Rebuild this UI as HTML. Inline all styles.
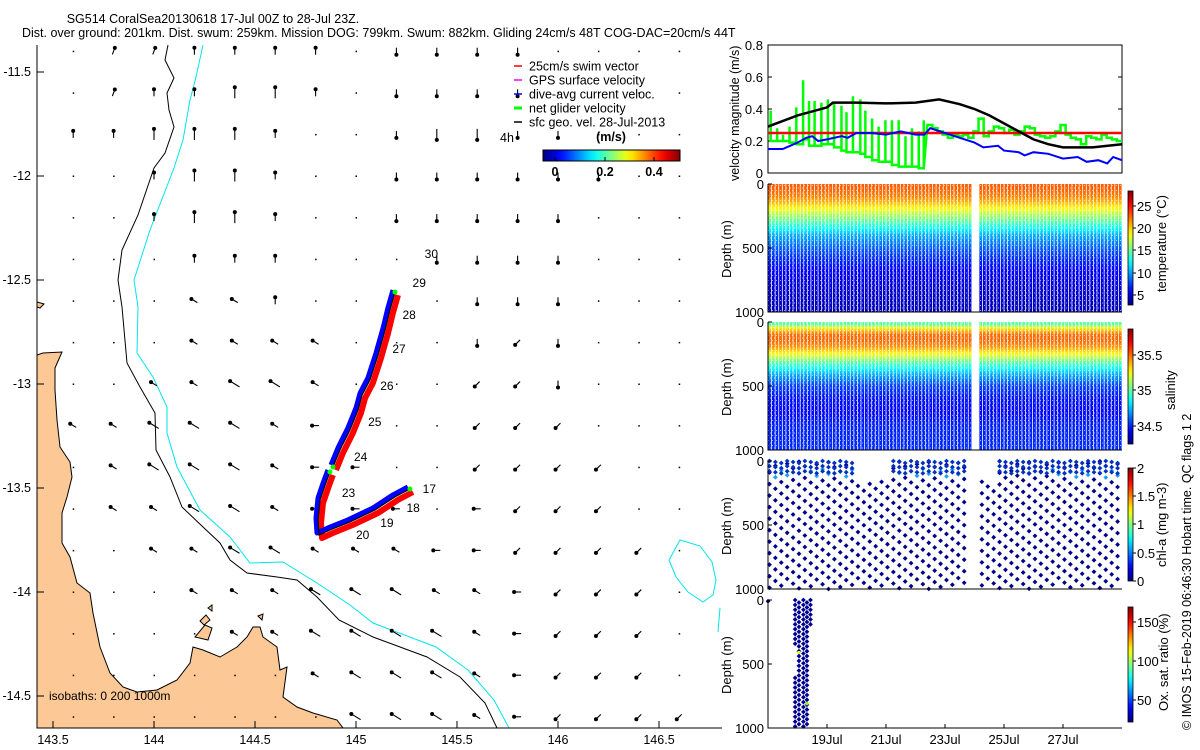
<!DOCTYPE html>
<html><head><meta charset="utf-8">
<style>
html,body{margin:0;padding:0;background:#fff;}
svg{display:block;font-family:"Liberation Sans",sans-serif;}
text{fill:#000;}
</style></head>
<body>
<svg id="fig" width="1200" height="750" viewBox="0 0 1200 750" xmlns="http://www.w3.org/2000/svg">
<defs>
<clipPath id="mapclip"><rect x="37" y="45" width="685" height="683"/></clipPath>
<linearGradient id="jetH" x1="0" x2="1" y1="0" y2="0"></linearGradient>
<linearGradient id="jetV" x1="0" x2="0" y1="1" y2="0"></linearGradient>
<linearGradient id="tempG" x1="0" x2="0" y1="0" y2="1"></linearGradient>
<linearGradient id="salG" x1="0" x2="0" y1="0" y2="1"></linearGradient>
<pattern id="dotsP" width="4" height="5" patternUnits="userSpaceOnUse"><rect x="0" y="0" width="1" height="1" fill="#fff"/><rect x="2" y="2.5" width="1" height="1" fill="#fff"/></pattern>
</defs>
<text x="213" y="23" text-anchor="middle" font-size="12.5">SG514 CoralSea20130618 17-Jul 00Z to 28-Jul 23Z.</text>
<text x="22" y="37" font-size="12.5">Dist. over ground: 201km. Dist. swum: 259km. Mission DOG: 799km. Swum: 882km. Gliding 24cm/s 48T COG-DAC=20cm/s 44T</text>

<g id="map"></g>
<g id="vel"></g>
<g id="sections"></g>

<text transform="translate(1191,730) rotate(-90)" font-size="12.5">© IMOS 15-Feb-2019 06:46:30 Hobart time. QC flags 1  2</text>
</svg>
<script>
// ---------------- data ----------------
const geoDays = [0,1,2,2.2,3,4,5,5.8,6.5,7,7.5,8,8.5,9,9.5,10,11,12];
const geoVel  = [0.29,0.36,0.41,0.44,0.44,0.435,0.44,0.46,0.43,0.40,0.36,0.31,0.26,0.21,0.18,0.16,0.16,0.18];
const swimVel = 0.25;
const dacDays = [0,0.5,1,1.3,1.5,1.7,2,2.5,2.7,3,3.5,4,4.5,5,5.3,5.5,6,6.5,7,7.3,7.8,8,8.5,8.7,9,9.5,10,10.5,10.8,11.2,11.5,11.7,12];
const dacVel  = [0.15,0.15,0.19,0.22,0.23,0.20,0.21,0.23,0.22,0.25,0.25,0.24,0.26,0.24,0.24,0.28,0.25,0.22,0.19,0.16,0.17,0.14,0.13,0.11,0.13,0.12,0.09,0.10,0.07,0.08,0.06,0.10,0.08];
const netDays1 = [0.09,0.31,0.51,0.73,0.96,1.19,1.39,1.58,1.81,2.03,2.24,2.49,2.66,2.88,3.13,3.30,3.53,3.75,3.98,4.20,4.43,4.66,4.88,5.11,5.28];
const netHigh1 = [0.39,0.28,0.24,0.29,0.41,0.58,0.45,0.45,0.44,0.46,0.44,0.42,0.38,0.48,0.46,0.39,0.34,0.29,0.33,0.33,0.33,0.23,0.28,0.26,0.33];
const netLow1  = [0.20,0.20,0.20,0.19,0.18,0.21,0.17,0.17,0.18,0.18,0.16,0.14,0.13,0.13,0.12,0.10,0.08,0.07,0.07,0.05,0.04,0.04,0.04,0.03,0.03];
const netVel2  = [0.30,0.28,0.26,0.24,0.22,0.24,0.23,0.24,0.22,0.26,0.34,0.23,0.26,0.29,0.28,0.25,0.27,0.24,0.26,0.29,0.28,0.24,0.23,0.22,0.23,0.26,0.30,0.24,0.22,0.21,0.18,0.23,0.22,0.21,0.24,0.22,0.21,0.20];
const velTicks = [0,0.2,0.4,0.6,0.8];
const dateTicks = [2,4,6,8,10];
const dateLabels = ["19Jul","21Jul","23Jul","25Jul","27Jul"];
const profDepth = [0,20,50,100,150,200,250,300,400,500,600,700,800,1000];
const profTemp  = [23,23,22.8,22,20.5,18.5,16.5,14.5,10.5,8.5,7,6,5.2,4.4];
const profSal   = [35.0,35.0,35.3,35.5,35.5,35.42,35.25,35.05,34.75,34.55,34.48,34.46,34.5,34.52];
const trackLon1 = [145.267,145.193,145.094,144.970,144.871,144.817,144.812,144.822,144.847,144.871];
const trackLat1 = [-13.505,-13.543,-13.606,-13.663,-13.702,-13.726,-13.654,-13.558,-13.486,-13.423];
const trackLon2 = [144.886,144.921,144.970,145.010,145.030,145.069,145.109,145.144,145.168,145.193];
const trackLat2 = [-13.399,-13.317,-13.221,-13.125,-13.053,-12.981,-12.861,-12.740,-12.644,-12.558];
const dayLabels = ["17","18","19","20","23","24","25","26","27","28","29","30"];
const dayLon = [145.33,145.25,145.12,145.0,144.93,144.99,145.06,145.12,145.18,145.23,145.28,145.34];
const dayLat = [-13.505,-13.596,-13.668,-13.726,-13.524,-13.351,-13.183,-13.010,-12.832,-12.668,-12.514,-12.375];
const quiverRows = [
 ".bbnnnn.ssss....",
 ".bnnNNn.ssss....",
 "nnNNNn..sSSss...",
 "..nNNn..ssssss..",
 "..nNNn..sssss...",
 "...nnn...ssss...",
 "...aan....sss...",
 "...aaaa...scs...",
 "..aaAAa...ccs...",
 "aaAAAaw...ccc...",
 ".aAAAaww..cccc..",
 ".aaAAawww.wccc..",
 "..aaAAaaawwcccc.",
 "...aaaAAAaawccc.",
 "....aaAAAAawccc.",
 "......aAAAawccc.",
 ".......AAAawcccc"];

// ---------------- helpers ----------------
const NS="http://www.w3.org/2000/svg";
function mk(tag,attrs,parent){const e=document.createElementNS(NS,tag);for(const k in attrs)e.setAttribute(k,attrs[k]);parent.appendChild(e);return e;}
function jet(t){t=Math.max(0,Math.min(1,t));const r=Math.max(0,Math.min(1,1.5-Math.abs(4*t-3))),g=Math.max(0,Math.min(1,1.5-Math.abs(4*t-2))),b=Math.max(0,Math.min(1,1.5-Math.abs(4*t-1)));return `rgb(${Math.round(r*255)},${Math.round(g*255)},${Math.round(b*255)})`;}
function interp(xs,ys,x){for(let i=1;i<xs.length;i++){if(x<=xs[i]){const f=(x-xs[i-1])/(xs[i]-xs[i-1]);return ys[i-1]+f*(ys[i]-ys[i-1]);}}return ys[ys.length-1];}
['jetH','jetV'].forEach(id=>{const g=document.getElementById(id);for(let i=0;i<=20;i++)mk('stop',{offset:(i/20),'stop-color':jet(i/20)},g);});
(function(){const tg=document.getElementById('tempG'),sg=document.getElementById('salG');
for(let d=0;d<=1000;d+=20){mk('stop',{offset:d/1000,'stop-color':jet((interp(profDepth,profTemp,d)-3)/25.5)},tg);
mk('stop',{offset:d/1000,'stop-color':jet((interp(profDepth,profSal,d)-34.25)/1.62)},sg);}})();

// ---------------- map ----------------
const map=document.getElementById('map');
const X=lon=>356+(lon-145)*202, Y=lat=>176+(-12-lat)*208;
const mg=mk('g',{'clip-path':'url(#mapclip)'},map);
const land=mk('path',{d:"M37,355 L43,353 L62,352 L55,368 L55,390 L57,420 L60,447 L70,462 L72,477 L67,497 L62,513 L62,543 L70,557 L77,583 L90,593 L93,613 L100,647 L110,673 L123,687 L137,692 L157,690 L177,680 L190,663 L193,647 L203,650 L220,657 L237,647 L247,637 L253,627 L260,627 L263,637 L277,647 L280,670 L287,667 L283,697 L297,707 L313,713 L337,720 L343,728 L37,728 Z M37,302 L44,304 L40,308 L37,307 Z M195,637 L205,625 L212,628 L208,640 Z M200,621 L206,615 L210,620 L204,625 Z M258,616 L263,614 L262,620 Z M208,608 L212,605 L212,611 Z",fill:'#fcc896',stroke:'#000','stroke-width':1},mg);


const iso200=mk('path',{d:"M168,45 L165,60 L174,78 L167,93 L169,110 L174,127 L165,153 L154,168 L138,215 L122,250 L118,280 L122,307 L127,363 L140,387 L155,413 L156,450 L170,477 L182,507 L203,527 L220,543 L230,560 L247,573 L277,577 L297,580 L317,597 L339,620 L373,637 L427,657 L460,677 L485,703 L497,728",fill:'none',stroke:'#000','stroke-width':1},mg);


const iso1000=mk('path',{d:"M203,45 L196,77 L190,100 L183,140 L174,168 L150,230 L134,280 L138,307 L137,353 L153,377 L167,407 L167,433 L177,467 L200,510 L230,537 L250,563 L283,562 L317,583 L350,605 L373,623 L436,647 L468,670 L494,700 L509,728 M680,540 L700,546 L712,562 L716,580 L713,595 L703,602 L688,592 L676,577 L669,560 Z M720,608 L718,632",fill:'none',stroke:'#00e5ee','stroke-width':1},mg);


const dirs={n:[0,-1],s:[0,1],e:[1,0],w:[-1,0],a:[-0.85,-0.52],b:[0.35,-0.94],c:[-0.7,0.7]};
const qg=mk('g',{},mg);


quiverRows.forEach((row,j)=>{for(let i=0;i<row.length;i++){const ch=row[i];const x=X(143.6+0.2*i),y=Y(-11.4-0.2*j);
 if(ch==='.'){mk('rect',{x:x-0.5,y:y-0.5,width:1.5,height:1.5,fill:'#000'},qg);continue;}
 const L=(ch===ch.toUpperCase())?11:7;const d=dirs[ch.toLowerCase()];
 const hx=x+d[0]*L*0.5,hy=y+d[1]*L*0.5,tx=x-d[0]*L*0.5,ty=y-d[1]*L*0.5;
 mk('line',{x1:tx,y1:ty,x2:hx,y2:hy,stroke:'#000','stroke-width':1.1},qg);
 mk('circle',{cx:hx,cy:hy,r:2,fill:'#000'},qg);}});
function trackPath(lons,lats,dx,dy){return lons.map((l,i)=>(i?'L':'M')+(X(l)+dx).toFixed(1)+','+(Y(lats[i])+dy).toFixed(1)).join(' ');}
const tg=mk('g',{},mg);


[[trackLon1,trackLat1],[trackLon2,trackLat2]].forEach(([lo,la])=>{
 mk('path',{d:trackPath(lo,la,3,3),fill:'none',stroke:'#ff0000','stroke-width':6,'stroke-linejoin':'round'},tg);
 mk('path',{d:trackPath(lo,la,-2,-2),fill:'none',stroke:'#0000ff','stroke-width':5,'stroke-linejoin':'round'},tg);
 mk('path',{d:trackPath(lo,la,0,0),fill:'none',stroke:'#000','stroke-width':1.2},tg);
 mk('circle',{cx:X(lo[0]),cy:Y(la[0]),r:2.5,fill:'#00ff00'},tg);
 mk('circle',{cx:X(lo[lo.length-1]),cy:Y(la[la.length-1]),r:2.5,fill:'#00ff00'},tg);});
dayLabels.forEach((s,i)=>{const t=mk('text',{x:X(dayLon[i]),y:Y(dayLat[i])+4,'font-size':12},tg);t.textContent=s;});
mk('path',{d:"M37,45 L37,728 L722,728",fill:'none',stroke:'#000','stroke-width':1},map);
[143.5,144,144.5,145,145.5,146,146.5].forEach(v=>{const x=X(v);mk('line',{x1:x,y1:728,x2:x,y2:721,stroke:'#000'},map);
 const t=mk('text',{x:x,y:744,'text-anchor':'middle','font-size':12.5},map);t.textContent=String(v);
 
 });
[-11.5,-12,-12.5,-13,-13.5,-14,-14.5].forEach(v=>{const y=Y(v);mk('line',{x1:37,y1:y,x2:44,y2:y,stroke:'#000'},map);
 const t=mk('text',{x:31,y:y+4,'text-anchor':'end','font-size':12.5},map);t.textContent=String(v);
 
 });
const iso=mk('text',{x:49,y:700,'font-size':12},map);iso.textContent="isobaths: 0   200  1000m";


const lg=mk('g',{},map);


const legT=["25cm/s swim vector","GPS surface velocity","dive-avg current veloc.","net glider velocity","sfc geo. vel. 28-Jul-2013"];
const legC=["#ff0000","#ff00ff","#0000ff","#00ff00","#000000"];
legT.forEach((s,i)=>{const y=66+i*14;mk('line',{x1:514,y1:y,x2:522,y2:y,stroke:legC[i],'stroke-width':i===3?3:1.5},lg);
 const t=mk('text',{x:529,y:y+4.5,'font-size':12.5},lg);t.textContent=s;});
const fh=mk('text',{x:500,y:142,'font-size':12.5},map);fh.textContent="4h";
const cbt=mk('text',{x:611,y:141,'font-size':12.5,'font-weight':'bold','text-anchor':'middle'},map);cbt.textContent="(m/s)";
const cb=mk('rect',{x:543,y:150,width:137,height:11,fill:'url(#jetH)',stroke:'#000','stroke-width':1},map);


[[555,"0"],[605,"0.2"],[654,"0.4"]].forEach(([x,s])=>{mk('line',{x1:x,y1:161,x2:x,y2:157,stroke:'#000'},map);const t=mk('text',{x:x,y:176,'font-size':12.5,'font-weight':'bold','text-anchor':'middle'},map);t.textContent=s;});

// ---------------- velocity panel ----------------
const vel=document.getElementById('vel');
const xv=d=>768+d*29.5, yv=v=>173-v*160;
mk('rect',{x:768,y:45,width:354,height:128,fill:'none',stroke:'#000'},vel);
velTicks.forEach(v=>{mk('line',{x1:768,y1:yv(v),x2:772,y2:yv(v),stroke:'#000'},vel);mk('line',{x1:1122,y1:yv(v),x2:1118,y2:yv(v),stroke:'#000'},vel);
 const t=mk('text',{x:763,y:yv(v)+5,'text-anchor':'end','font-size':13},vel);t.textContent=String(v);});
let gp='';netDays1.forEach((d,i)=>{gp+=(i?'L':'M')+xv(d)+','+yv(netLow1[i])+' L'+xv(d)+','+yv(netHigh1[i])+' L'+xv(d)+','+yv(netLow1[i]);
 if(i<netDays1.length-1)gp+=' L'+xv(netDays1[i+1])+','+yv(netLow1[i]);});
const n2=netVel2.length;netVel2.forEach((v,i)=>{const d0=5.4+i*6.6/n2,d1=5.4+(i+1)*6.6/n2;gp+=' L'+xv(d0)+','+yv(v)+' L'+xv(d1)+','+yv(v);});
const gl=mk('path',{d:gp,fill:'none',stroke:'#00ff00','stroke-width':2.5},vel);


const rl=mk('line',{x1:xv(0),y1:yv(swimVel),x2:xv(12),y2:yv(swimVel),stroke:'#ff0000','stroke-width':2.5},vel);


const bl=mk('path',{d:dacDays.map((d,i)=>(i?'L':'M')+xv(d)+','+yv(dacVel[i])).join(' '),fill:'none',stroke:'#0000ff','stroke-width':2},vel);


const kl=mk('path',{d:geoDays.map((d,i)=>(i?'L':'M')+xv(d)+','+yv(geoVel[i])).join(' '),fill:'none',stroke:'#000','stroke-width':2.5},vel);


const vy=mk('text',{transform:'translate(739,181) rotate(-90)','font-size':12.5},vel);vy.textContent="velocity magnitude (m/s)";



// ---------------- section panels ----------------
const sec=document.getElementById('sections');
const panels=[{top:184,name:'temperature'},{top:322,name:'salinity'},{top:461,name:'chl-a'},{top:600,name:'oxygen'}];
const gapStart=6.85,gapEnd=7.05;
function diamond(g,x,y,col){mk('rect',{x:x-1.7,y:y-1.7,width:3.4,height:3.4,fill:col,transform:`rotate(45 ${x} ${y})`},g);}
panels.forEach((p,pi)=>{
 const g=mk('g',{},sec);
 
 
 const yd=d=>p.top+d*0.128;
 if(pi<2){
  for(let k=0;k<99;k++){const d=k*12/99;if(d>gapStart&&d<gapEnd)continue;
   mk('rect',{x:xv(d)+0.4,y:p.top,width:2.8,height:128,fill:pi===0?'url(#tempG)':'url(#salG)'},g);}
  mk('rect',{x:768,y:p.top,width:354,height:128,fill:'url(#dotsP)',opacity:0.6},g);
 } else if(pi===2){
  for(let k=0;k<60;k++){const d=k*12/60+0.05;if(d>gapStart-0.1&&d<gapEnd+0.1)continue;
   const off=(k*37)%90;
   for(let z=off;z<=1000;z+=90){ if(z<150&&((d>2.9&&d<4.1)||(d>6.9&&d<7.7)))continue;
    const col=(z>60&&z<130&&((d>0.1&&d<2.9)||(d>4.1&&d<6.8)||(d>9.5&&d<12)))?'#1aa0ff':'#00008f';
    diamond(g,xv(d),yd(z),col);}
   for(let z=(k%3)*8;z<120;z+=40){ if((d>2.9&&d<4.1)||(d>6.9&&d<7.7))continue; diamond(g,xv(d),yd(z),'#0030c0');}}
 } else {
  diamond(g,768,yd(10),'#00008f');
  const ox=[0.92,1.05,1.2,1.32,1.44];
  ox.forEach((d,k)=>{for(let z=(k%2)*20;z<=1000;z+=38){if(k===4&&z>200)continue;if(k===0&&z>350&&z<600)continue;
   diamond(g,xv(d),yd(z),'#00008f');}});
  mk('rect',{x:xv(1.05)-1.5,y:yd(410)-1.5,width:3,height:3,fill:'#ddff00'},g);
  mk('rect',{x:xv(1.32)-1.5,y:yd(810)-1.5,width:3,height:3,fill:'#88ff00'},g);
 }
 mk('path',{d:`M768,${p.top} L768,${p.top+128} L1122,${p.top+128}`,fill:'none',stroke:'#000'},g);
 [0,500,1000].forEach(v=>{mk('line',{x1:768,y1:yd(v),x2:772,y2:yd(v),stroke:'#000'},g);
  const t=mk('text',{x:764,y:yd(v)+5,'text-anchor':'end','font-size':13},g);t.textContent=String(v);});
 const dt=mk('text',{transform:`translate(731,${p.top+94}) rotate(-90)`,'font-size':13},g);dt.textContent="Depth (m)";
 
 
});
const cbs=[{y0:191,y1:305,ticks:[[206,"25"],[228,"20"],[250,"15"],[273,"10"],[295,"5"]],lab:"temperature (°C)",lx:1166,ly:292},
 {y0:329,y1:444,ticks:[[355,"35.5"],[390,"35"],[426,"34.5"]],lab:"salinity",lx:1175,ly:410},
 {y0:468,y1:581,ticks:[[468,"2"],[496,"1.5"],[524,"1"],[553,"0.5"],[581,"0"]],lab:"chl-a (mg m-3)",lx:1166,ly:567},
 {y0:607,y1:722,ticks:[[622,"150"],[661,"100"],[700,"50"]],lab:"Ox. sat. ratio (%)",lx:1168,ly:711}];
cbs.forEach(c=>{const r=mk('rect',{x:1128,y:c.y0,width:5,height:c.y1-c.y0,fill:'url(#jetV)',stroke:'#000','stroke-width':0.8},sec);
 
 
 c.ticks.forEach(([y,s])=>{mk('line',{x1:1133,y1:y,x2:1136,y2:y,stroke:'#000'},sec);const t=mk('text',{x:1137,y:y+5,'font-size':13},sec);t.textContent=s;});
 const l=mk('text',{transform:`translate(${c.lx},${c.ly}) rotate(-90)`,'font-size':13},sec);l.textContent=c.lab;});
dateTicks.forEach((d,i)=>{mk('line',{x1:xv(d),y1:728,x2:xv(d),y2:724,stroke:'#000'},sec);
 const t=mk('text',{x:xv(d),y:744,'text-anchor':'middle','font-size':13},sec);t.textContent=dateLabels[i];
 
 });
</script>
</body></html>
